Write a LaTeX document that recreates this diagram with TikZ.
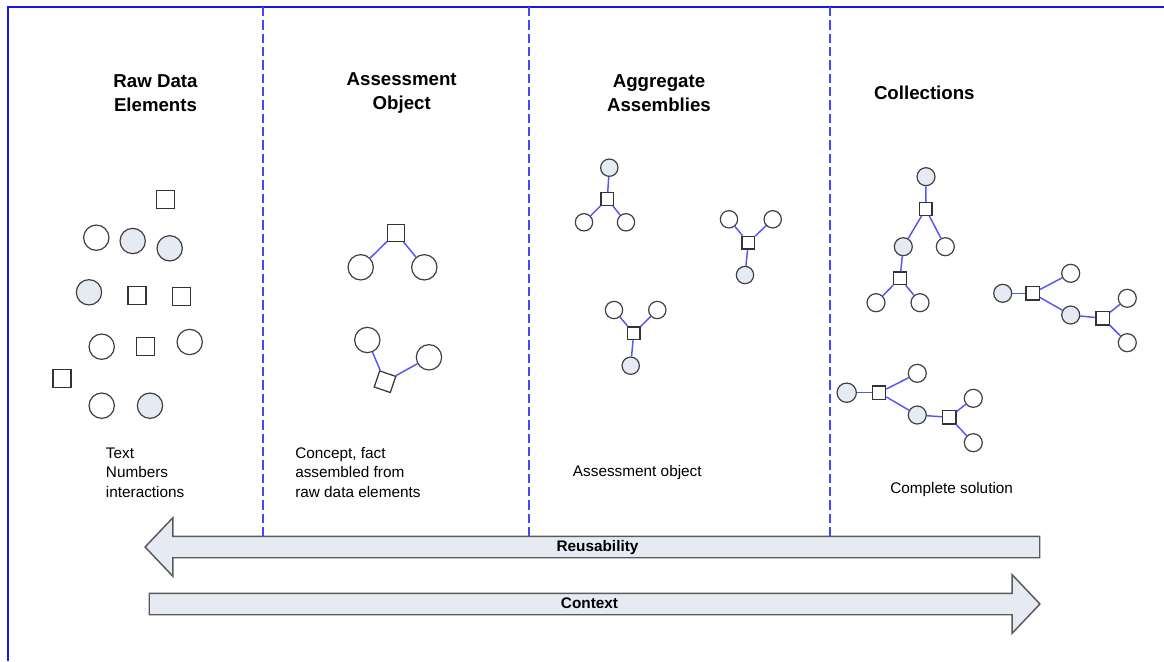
\documentclass[tikz,border=0pt]{standalone}
\usepackage{fontspec}
\setmainfont{Liberation Sans}
\usetikzlibrary{shapes.arrows}
\definecolor{frameblue}{RGB}{25,25,225}
\definecolor{dashblue}{RGB}{70,70,250}
\definecolor{linkblue}{RGB}{85,85,250}
\definecolor{nodegrey}{RGB}{230,234,242}
\tikzstyle{obj} = [circle, draw=black!75, fill=white, line width=0.9pt, inner sep=0pt]
\tikzstyle{sq} = [rectangle, draw=black!80, fill=white, line width=0.9pt, inner sep=0pt]
\tikzstyle{shaded} = [fill=nodegrey]
\tikzstyle{o1} = [obj, minimum size=19pt]
\tikzstyle{s1} = [sq, minimum size=13.5pt]
\tikzstyle{o2} = [obj, minimum size=13pt]
\tikzstyle{s2} = [sq, minimum size=9.5pt]
\tikzstyle{link} = [linkblue, line width=1.1pt]
\tikzstyle{title} = [font=\fontsize{14pt}{18pt}\selectfont\bfseries, align=center]
\tikzstyle{note} = [font=\fontsize{11.5pt}{14.5pt}\selectfont, align=left, anchor=west, inner sep=0pt]
\tikzstyle{band} = [single arrow, draw=black!65, fill=nodegrey, line width=1.1pt,
    minimum width=42.75pt, single arrow head extend=13.9pt, single arrow tip angle=93,
    text height=8.5pt, text depth=2.5pt, inner ysep=2pt,
    font=\fontsize{11.5pt}{14pt}\selectfont\bfseries]

\begin{document}
\begin{tikzpicture}[x=0.75pt, y=-0.75pt]
    \useasboundingbox (0,0) rectangle (1164,661);

    % frame and column dividers
    \draw[frameblue, line width=1.6pt] (1164,7) -- (8,7) -- (8,661);
    \foreach \xx in {263, 529, 830}
        \draw[dashblue, line width=1pt, dash pattern=on 7pt off 3pt] (\xx,7) -- (\xx,537);

    % column titles
    \node[title] (t1) at (155.5,93) {Raw Data\\Elements};
    \node[title] (t2) at (401.7,93) {Assessment\\Object};
    \node[title] (t3) at (659,93) {Aggregate\\Assemblies};
    \node[title] (t4) at (924.3,92.7) {Collections};

    % raw data elements
    \node[s1] (r1) at (165.7,199.3) {};
    \node[o1] (r2) at (96.3,237.7) {};
    \node[o1, shaded] (r3) at (132.7,241) {};
    \node[o1, shaded] (r4) at (169.7,248.3) {};
    \node[o1, shaded] (r5) at (89,292.3) {};
    \node[s1] (r6) at (137,295.3) {};
    \node[s1] (r7) at (181.3,296.7) {};
    \node[o1] (r8) at (101.7,346.7) {};
    \node[s1] (r9) at (145.7,346.7) {};
    \node[o1] (r10) at (189.7,342) {};
    \node[s1] (r11) at (62,378.3) {};
    \node[o1] (r12) at (101.7,405.7) {};
    \node[o1, shaded] (r13) at (150,405.7) {};

    % assessment objects
    \node[s1, minimum size=12.75pt] (a1) at (396,232.7) {};
    \node[o1] (a2) at (360.7,267.3) {};
    \node[o1] (a3) at (424.3,267.3) {};
    \node[o1] (a4) at (367.3,340) {};
    \node[o1] (a5) at (429,357.3) {};
    \node[s1, minimum size=12.75pt, rotate=-19] (a6) at (385,381.7) {};
    \path[link]
        (a1) edge (a2)
        (a1) edge (a3)
        (a6) edge (a4)
        (a6) edge (a5)
    ;

    % aggregate assemblies
    \node[o2, shaded] (g1) at (609.3,167.7) {};
    \node[s2] (g2) at (607.3,199) {};
    \node[o2] (g3) at (584,222.3) {};
    \node[o2] (g4) at (626,222.3) {};
    \node[o2] (h1) at (729,219.3) {};
    \node[o2] (h2) at (772.7,219.3) {};
    \node[s2] (h3) at (748.3,242.7) {};
    \node[o2, shaded] (h4) at (745,275) {};
    \node[o2] (k1) at (614,310) {};
    \node[o2] (k2) at (657.3,310) {};
    \node[s2] (k3) at (633.7,333.3) {};
    \node[o2, shaded] (k4) at (630.7,365.7) {};
    \path[link]
        (g2) edge (g1) (g2) edge (g3) (g2) edge (g4)
        (h3) edge (h1) (h3) edge (h2) (h3) edge (h4)
        (k3) edge (k1) (k3) edge (k2) (k3) edge (k4)
    ;

    % collections
    \node[o2, shaded, minimum size=13.5pt] (c1) at (926,176.7) {};
    \node[s2] (c2) at (925.7,209) {};
    \node[o2, shaded, minimum size=13.5pt] (c3) at (903.3,246.7) {};
    \node[o2, minimum size=13.5pt] (c4) at (945.3,246.7) {};
    \node[s2] (c5) at (900,278.3) {};
    \node[o2, minimum size=13.5pt] (c6) at (876,302.7) {};
    \node[o2, minimum size=13.5pt] (c7) at (920,302.7) {};
    \node[o2, shaded, minimum size=13.5pt] (d1) at (1002.7,293.3) {};
    \node[s2, minimum size=10pt] (d2) at (1032.7,293.3) {};
    \node[o2, minimum size=13.5pt] (d3) at (1070.7,273.3) {};
    \node[o2, shaded, minimum size=13.5pt] (d4) at (1070.7,315) {};
    \node[s2, minimum size=10pt] (d5) at (1102.7,318.3) {};
    \node[o2, minimum size=13.5pt] (d6) at (1127.3,298.3) {};
    \node[o2, minimum size=13.5pt] (d7) at (1127.3,342.7) {};
    \node[o2, shaded, minimum size=14.5pt] (e1) at (846.7,392.7) {};
    \node[s2, minimum size=10pt] (e2) at (879,392.7) {};
    \node[o2, minimum size=13.5pt] (e3) at (917.3,373.3) {};
    \node[o2, shaded, minimum size=13.5pt] (e4) at (917.3,415) {};
    \node[s2, minimum size=10pt] (e5) at (949.3,417.3) {};
    \node[o2, minimum size=13.5pt] (e6) at (973.3,398.3) {};
    \node[o2, minimum size=13.5pt] (e7) at (973.3,442.7) {};
    \path[link]
        (c2) edge (c1) (c2) edge (c3) (c2) edge (c4)
        (c5) edge (c3) (c5) edge (c6) (c5) edge (c7)
        (d2) edge (d1) (d2) edge (d3) (d2) edge (d4)
        (d5) edge (d4) (d5) edge (d6) (d5) edge (d7)
        (e2) edge (e1) (e2) edge (e3) (e2) edge (e4)
        (e5) edge (e4) (e5) edge (e6) (e5) edge (e7)
    ;

    % column notes
    \node[note] (n1) at (105.7,472.5) {Text\\Numbers\\interactions};
    \node[note] (n2) at (295,472.5) {Concept, fact\\assembled from\\raw data elements};
    \node[note] (n3) at (572.7,472.7) {Assessment object};
    \node[note] (n4) at (890,489.3) {Complete solution};

    % reusability and context arrows
    \node[band, shape border rotate=180, minimum height=671pt] (reuse) at (597.5,547) {Reusability};
    \node[band, minimum height=668pt] (context) at (589.5,604) {Context};

\end{tikzpicture}
\end{document}
